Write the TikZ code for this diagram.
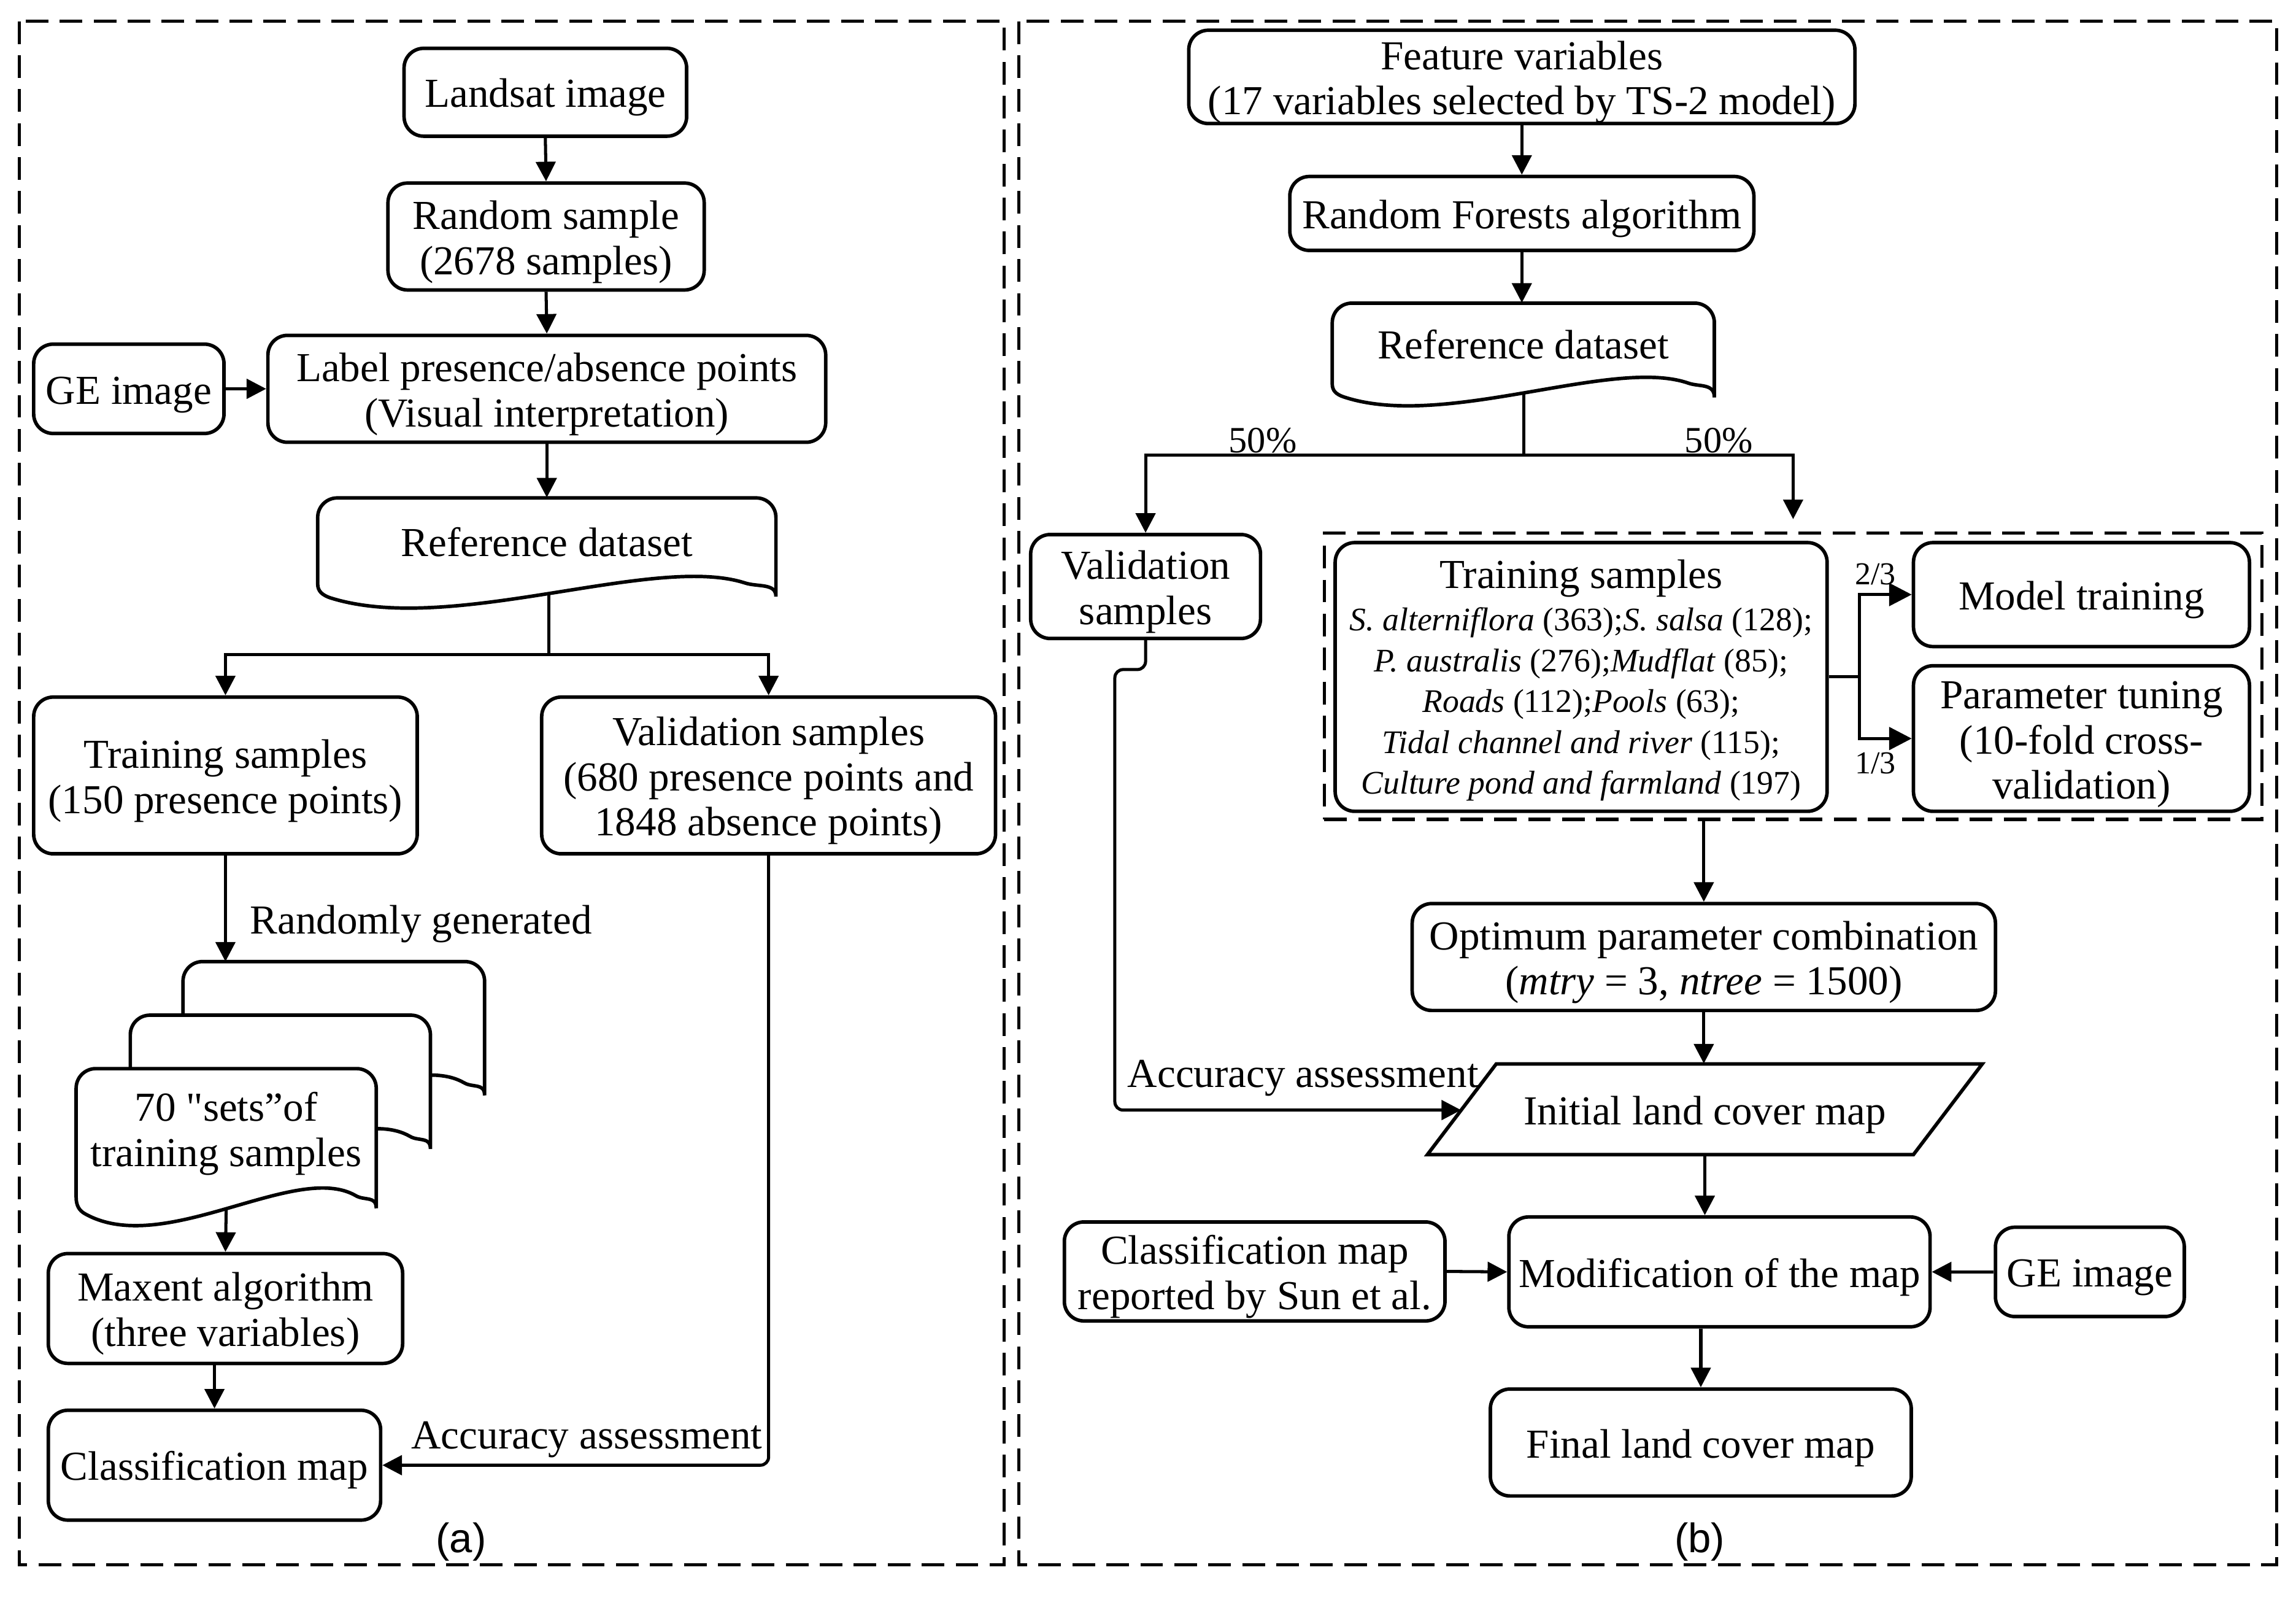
\documentclass[tikz,border=0pt]{standalone}
\usepackage{fontspec}
\setmainfont{Liberation Serif}
\newfontfamily\rawserif{Liberation Serif}
\newfontfamily\capfont{Liberation Sans}
\usetikzlibrary{arrows.meta}
\newlength\pu
\setlength\pu{0.025cm}
\newcommand\tstrut{\rule{0pt}{19pt}}
% document shape: #1 left, #2 top, #3 right, #4 depth of right side, #5 wave amplitude
\newcommand\docpath[5]{%
  \pgfmathsetmacro\dsL{#1}%
  \pgfmathsetmacro\dsT{#2}%
  \pgfmathsetmacro\dsR{#3}%
  \pgfmathsetmacro\dsS{(#3-#1)/205}%
  \pgfmathsetmacro\dsB{#2+#4}%
  \pgfmathsetmacro\dsA{#5}%
  \draw[docsty] (\dsL,{\dsB+6*\dsA}) [rounded corners=9.5pt] -- (\dsL,\dsT) -- (\dsR,\dsT) -- (\dsR,\dsB) [sharp corners]
    .. controls (\dsR,{\dsB+5*\dsA}) and ({\dsR-8*\dsS},{\dsB+8.75*\dsA}) .. ({\dsR-14*\dsS},{\dsB+5*\dsA})
    .. controls ({\dsL+150*\dsS},{\dsB-20*\dsA}) and ({\dsL+60*\dsS},{\dsB+50*\dsA}) .. ({\dsL+6*\dsS},{\dsB+18*\dsA})
    .. controls ({\dsL+2*\dsS},{\dsB+15.6*\dsA}) and (\dsL,{\dsB+12*\dsA}) .. cycle;
}
\begin{document}
\begin{tikzpicture}[x=0.025cm, y=-0.025cm,
  box/.style={draw, line width=1.7pt, rounded corners=9.5pt, align=center, inner sep=0pt, fill=white, font=\fontsize{20}{22}\selectfont},
  txt/.style={inner sep=0pt, align=center, font=\fontsize{20}{22}\selectfont},
  docsty/.style={draw, line width=1.7pt, fill=white},
  conn/.style={line width=1.5pt, -{Triangle[length=9.5pt,width=9.5pt]}},
  plainline/.style={line width=1.5pt},
  dframe/.style={line width=1.5pt, dash pattern=on 11pt off 5.5pt},
  bigtip/.style={-{Triangle[length=11pt,width=11pt]}},
  figcap/.style={inner sep=0pt, font=\capfont\fontsize{20}{22}\selectfont},
  fraclbl/.style={inner sep=0pt, font=\fontsize{15.5}{18}\selectfont}]

\useasboundingbox (0,0) rectangle (1568.3,1090.5);

% ---------------- frames
\draw[dframe] (13,14.5) rectangle (686,1068.5);
\draw[dframe] (696,14.5) rectangle (1555,1068.5);

% ---------------- panel (a)
\node[box, minimum width=193\pu, minimum height=60\pu] (landsat) at (372.5,63) {\tstrut Landsat image};
\node[box, minimum width=216\pu, minimum height=73\pu] (rand) at (373,161.5) {\tstrut Random sample\\(2678 samples)};
\node[box, minimum width=130\pu, minimum height=61\pu] (ge1) at (88,265.5) {\tstrut GE image};
\node[box, minimum width=381\pu, minimum height=73\pu] (label) at (373.5,265.5) {\tstrut Label presence/absence points\\(Visual interpretation)};
\docpath{217}{340}{530}{54}{0.8}
\node[txt, minimum width=313\pu, minimum height=60\pu] (ref1) at (373.5,370) {Reference dataset};
\coordinate (ref1b) at (375,405.5);
\coordinate (s1) at (375,447);
\node[box, minimum width=262\pu, minimum height=107\pu] (train1) at (154,529.5) {\tstrut Training samples\\(150 presence points)};
\node[box, minimum width=310\pu, minimum height=107\pu] (val1) at (525,529.5) {\tstrut Validation samples\\(680 presence points and\\1848 absence points)};
\docpath{125}{656.6}{331}{78}{0.95}
\docpath{89}{693.2}{294}{78}{0.95}
\docpath{52}{729.7}{257}{82}{0.95}
\node[txt] (sets) at (154.5,774) {70 {\rawserif"}sets”of\\training samples};
\coordinate (stk) at (154,656.6);
\coordinate (setsb) at (154.5,825.5);
\node[box, minimum width=242\pu, minimum height=75\pu] (maxent) at (154,893.5) {\tstrut Maxent algorithm\\(three variables)};
\node[box, minimum width=227\pu, minimum height=75\pu] (class1) at (146.5,1000.5) {\tstrut Classification map};
\node[txt, anchor=west] (rg) at (170.5,631) {Randomly generated};
\node[txt, anchor=east] (aa1) at (521,983) {Accuracy assessment};
\node[figcap] (capa) at (315,1053) {(a)};

\draw[conn] (landsat.south) -- (rand.north);
\draw[conn] (rand.south) -- (label.north);
\draw[conn] (ge1.east) -- (label.west);
\draw[conn] (label.south) -- (label.south |- ref1.north);
\draw[plainline] (ref1b) -- (s1);
\draw[conn] (s1) -| (train1.north);
\draw[conn] (s1) -| (val1.north);
\draw[conn] (train1.south) -- (stk);
\draw[conn] (setsb) -- (maxent.north);
\draw[conn] (maxent.south -| class1.north) -- (class1.north);
\draw[conn, rounded corners=4pt] (val1.south) |- (class1.east);

% ---------------- panel (b)
\node[box, minimum width=455\pu, minimum height=61\pu] (feat) at (1039.5,52.5) {\tstrut Feature variables\\(17 variables selected by TS-2 model)};
\node[box, minimum width=317\pu, minimum height=50.5\pu] (rf) at (1039.5,145.75) {\tstrut Random Forests algorithm};
\docpath{910}{207}{1171}{51}{0.72}
\node[txt, minimum width=261\pu, minimum height=56\pu] (ref2) at (1040.5,235) {Reference dataset};
\coordinate (ref2b) at (1041,268.5);
\coordinate (s2) at (1041,310.6);
\node[txt, anchor=base, font=\fontsize{18}{20}\selectfont] (p1) at (862.5,309) {50\%};
\node[txt, anchor=base, font=\fontsize{18}{20}\selectfont] (p2) at (1174,309) {50\%};
\node[box, minimum width=157\pu, minimum height=71\pu] (val2) at (782.5,400.5) {\tstrut Validation\\samples};
\node[draw, dframe, minimum width=640.4\pu, minimum height=195.5\pu, inner sep=0pt] (grp) at (1224.8,461.75) {};
\node[box, minimum width=336\pu, minimum height=183.5\pu, font=\fontsize{16}{19.8}\selectfont] (train2) at (1080,462.25)
  {\rule{0pt}{17pt}{\fontsize{20}{22}\selectfont Training samples}\\[1pt]
   \textit{S. alterniflora} (363);\textit{S. salsa} (128);\\
   \textit{P. australis} (276);\textit{Mudflat} (85);\\
   \textit{Roads} (112);\textit{Pools} (63);\\
   \textit{Tidal channel and river} (115);\\
   \textit{Culture pond and farmland} (197)};
\node[box, minimum width=229.5\pu, minimum height=71\pu] (mt) at (1421.75,406) {\tstrut Model training};
\node[box, minimum width=229.5\pu, minimum height=99.4\pu] (pt) at (1421.75,504.3) {\tstrut Parameter tuning\\(10-fold cross-\\validation)};
\coordinate (s3) at (1270,462.25);
\node[fraclbl] (f23) at (1281,392) {2/3};
\node[fraclbl] (f13) at (1281,521) {1/3};
\node[box, minimum width=398.4\pu, minimum height=73\pu] (opt) at (1163.8,653.5) {\tstrut Optimum parameter combination\\(\textit{mtry} = 3, \textit{ntree} = 1500)};
\draw[line width=1.7pt, fill=white] (1022,726.5) -- (1354,726.5) -- (1307,788.4) -- (975,788.4) -- cycle;
\node[txt, minimum width=332\pu, minimum height=61.9\pu] (init) at (1164.5,757.45) {\tstrut Initial land cover map};
\coordinate (initw) at (998,758);
\node[txt, anchor=west] (aa2) at (770,736) {Accuracy assessment};
\node[box, minimum width=287.7\pu, minimum height=75\pu] (mod) at (1174.5,868.5) {\tstrut Modification of the map};
\node[box, minimum width=260\pu, minimum height=67.6\pu] (cls2) at (857,868.2) {\tstrut Classification map\\reported by Sun et al.};
\node[box, minimum width=129\pu, minimum height=61\pu] (ge2) at (1427.5,868.5) {\tstrut GE image};
\node[box, minimum width=287.5\pu, minimum height=73\pu] (final) at (1161.75,985) {\tstrut Final land cover map};
\node[figcap] (capb) at (1161,1053) {(b)};

\draw[conn] (feat.south) -- (rf.north);
\draw[conn] (rf.south) -- (rf.south |- ref2.north);
\draw[plainline] (ref2b) -- (s2);
\draw[conn] (s2) -| (val2.north);
\draw[conn, shorten >=6pt] (s2) -| (grp.north);
\draw[plainline] (train2.east) -- (s3);
\draw[conn, bigtip] (s3) |- (mt.west);
\draw[conn, bigtip] (s3) |- (pt.west);
\draw[conn] (grp.south -| opt.north) -- (opt.north);
\draw[conn] (opt.south) -- (opt.south |- init.north);
\draw[conn, rounded corners=4pt] (val2.south) |- ++(-21,20) |- (initw);
\draw[conn] (init.south) -- (init.south |- mod.north);
\draw[conn] (cls2.east) -- (mod.west);
\draw[conn] (ge2.west) -- (mod.east);
\draw[conn] (final.north |- mod.south) -- (final.north);
\end{tikzpicture}
\end{document}
